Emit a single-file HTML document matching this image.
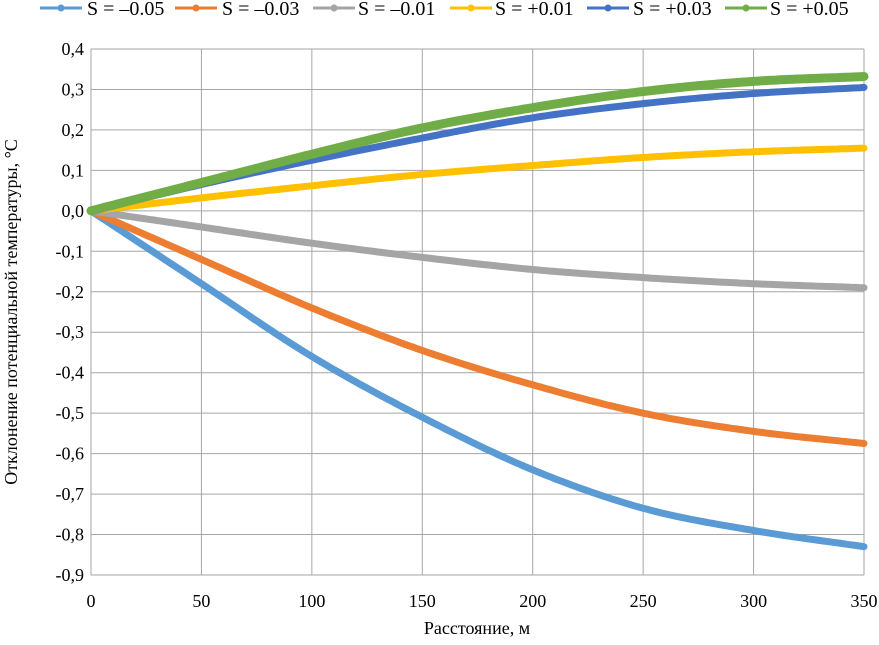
<!DOCTYPE html>
<html><head><meta charset="utf-8"><style>
body{margin:0;background:#fff}
</style></head><body>
<svg id="c" width="879" height="640" font-family="Liberation Serif, serif"></svg>
<script>
const xs=[0,50,100,150,200,250,300,350];
const sM05=[0,-0.18,-0.36,-0.51,-0.64,-0.735,-0.79,-0.83];
const sM03=[0,-0.12,-0.24,-0.345,-0.43,-0.50,-0.545,-0.575];
const sM01=[0,-0.04,-0.08,-0.115,-0.145,-0.165,-0.18,-0.19];
const sP01=[0,0.032,0.062,0.09,0.112,0.132,0.146,0.155];
const sP03=[0,0.065,0.125,0.18,0.23,0.265,0.29,0.305];
const sP05=[0,0.07,0.14,0.205,0.255,0.295,0.32,0.332];
const yTicks=[0.4,0.3,0.2,0.1,0,-0.1,-0.2,-0.3,-0.4,-0.5,-0.6,-0.7,-0.8,-0.9];
const xTicks=[0,50,100,150,200,250,300,350];
const names=["S = \u20130.05","S = \u20130.03","S = \u20130.01","S = +0.01","S = +0.03","S = +0.05"];
const colors=["#5b9bd5","#ed7d31","#a5a5a5","#ffc000","#4472c4","#70ad47"];
const series=[sM05,sM03,sM01,sP01,sP03,sP05];
const NS="http://www.w3.org/2000/svg",svg=document.getElementById('c');
const X=v=>91+v/350*773, Y=v=>49+(0.4-v)/1.3*526;
function el(t,a,p){const e=document.createElementNS(NS,t);for(const k in a)e.setAttribute(k,a[k]);(p||svg).appendChild(e);return e;}
const F='Liberation Serif, serif';
yTicks.forEach(v=>{const l=el('line',{x1:91,x2:864,y1:Y(v),y2:Y(v),stroke:'#a6a6a6','stroke-width':1});


const t=el('text',{x:84,y:Y(v)+6,'text-anchor':'end','font-size':18,'font-family':F});t.textContent=v.toFixed(1).replace('.',',').replace('-0,0','0,0');

});
xTicks.forEach(v=>{const l=el('line',{x1:X(v),x2:X(v),y1:49,y2:575,stroke:'#a6a6a6','stroke-width':1});


const t=el('text',{x:X(v),y:607,'text-anchor':'middle','font-size':18,'font-family':F});t.textContent=v;

});
function interp(arr,x){const i=Math.min(Math.floor(x/50),6),t=(x-xs[i])/50;
const p0=arr[Math.max(i-1,0)],p1=arr[i],p2=arr[i+1],p3=arr[Math.min(i+2,7)];
const m1=(p2-p0)/(i==0?1:2),m2=(p3-p1)/(i+1==7?1:2);
const t2=t*t,t3=t2*t;return (2*t3-3*t2+1)*p1+(t3-2*t2+t)*m1+(-2*t3+3*t2)*p2+(t3-t2)*m2;}
series.forEach((s,k)=>{let d='';for(let x=0;x<=350;x+=2){d+=(x?'L':'M')+X(x).toFixed(1)+' '+Y(interp(s,x)).toFixed(1);}
const p=el('path',{d:d,fill:'none',stroke:colors[k],'stroke-width':k==5?9:7,'stroke-linecap':'round'});

});
const lineStart=[40,175,313,450,587,725];
const textStart=[87,222,358,495,633,770];
names.forEach((n,k)=>{const g=el('g',{});


const l0=lineStart[k];
el('line',{x1:l0,x2:l0+42,y1:8,y2:8,stroke:colors[k],'stroke-width':3},g);
el('circle',{cx:l0+21,cy:8,r:3.5,fill:colors[k]},g);
const t=el('text',{x:textStart[k],y:15,'font-size':20,'font-family':F},g);t.textContent=n;});
let t=el('text',{x:477,y:634,'text-anchor':'middle','font-size':18,'font-family':F});t.textContent='Расстояние, м';


t=el('text',{x:0,y:0,'text-anchor':'middle','font-size':18,'font-family':F,transform:'translate(17,312) rotate(-90)'});t.textContent='Отклонение потенциальной температуры, °C';


</script>
</body></html>
